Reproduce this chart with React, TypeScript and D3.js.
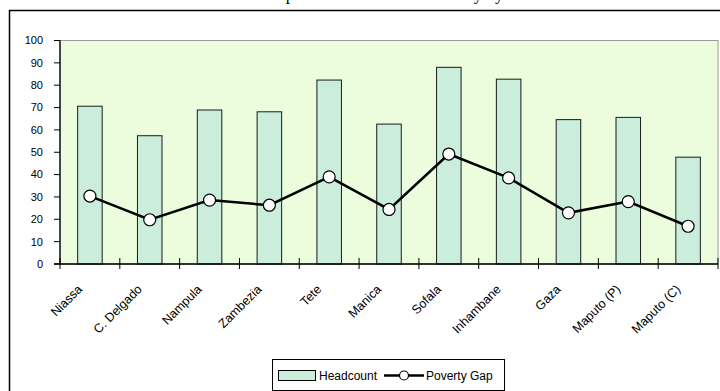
import React from "react";
import * as d3 from "d3";

const categories = [
  "Niassa",
  "C. Delgado",
  "Nampula",
  "Zambezia",
  "Tete",
  "Manica",
  "Sofala",
  "Inhambane",
  "Gaza",
  "Maputo (P)",
  "Maputo (C)",
];
const headcount = [70.6, 57.4, 68.9, 68.1, 82.3, 62.6, 88.0, 82.7, 64.6, 65.6, 47.8];
const povertyGap = [30.4, 19.8, 28.6, 26.3, 39.0, 24.4, 49.2, 38.5, 22.9, 27.9, 16.9];
const yTicks = [0, 10, 20, 30, 40, 50, 60, 70, 80, 90, 100];

const W = 720;
const H = 391;
const plot = { left: 60, right: 718, top: 40.5, bottom: 264 };

const sans = "'Liberation Sans', Arial, sans-serif";

export default function App() {
  const x = d3
    .scaleBand<string>()
    .domain(categories)
    .range([plot.left, plot.right])
    .paddingInner(0)
    .paddingOuter(0);
  const y = d3.scaleLinear().domain([0, 100]).range([plot.bottom, plot.top]);
  const barW = x.bandwidth() * 0.41;
  const cx = (c: string) => (x(c) as number) + x.bandwidth() / 2;

  const line = d3
    .line<number>()
    .x((_, i) => cx(categories[i]))
    .y((d) => y(d));

  const boundaries = d3.range(categories.length + 1).map((i) => plot.left + i * x.bandwidth());

  return (
    <div style={{ position: "fixed", left: 0, top: 0 }}>
      <svg width={W} height={H} style={{ display: "block", background: "#fff" }}>
        {/* title, mostly above the frame */}
        <text
          x={266}
          y={0}
          fontFamily="'Liberation Serif', 'Times New Roman', serif"
          fontSize={17}
          fill="#000"
        >
          Depth and Incidence of Poverty by Province
        </text>

        {/* chart frame */}
        <rect x={9.5} y={10.5} width={760} height={420} fill="#fff" stroke="#000" strokeWidth={1.5} />

        {/* plot area */}
        <rect
          x={plot.left}
          y={plot.top}
          width={plot.right - plot.left}
          height={plot.bottom - plot.top}
          fill="#EBFDDC"
          stroke="#9a9a9a"
          strokeWidth={1}
        />

        {/* bars */}
        {categories.map((c, i) => (
          <rect
            key={c}
            x={cx(c) - barW / 2}
            y={y(headcount[i])}
            width={barW}
            height={plot.bottom - y(headcount[i])}
            fill="#CBEDDC"
            stroke="#1a1a1a"
            strokeWidth={1}
          />
        ))}

        {/* y axis */}
        <line x1={plot.left} x2={plot.left} y1={plot.top} y2={plot.bottom} stroke="#000" strokeWidth={1.3} />
        {yTicks.map((t) => (
          <g key={t}>
            <line x1={plot.left - 6} x2={plot.left} y1={y(t)} y2={y(t)} stroke="#000" strokeWidth={1} />
            <text
              x={plot.left - 17}
              y={y(t)}
              dy="0.35em"
              textAnchor="end"
              fontFamily={sans}
              fontSize={11}
              fill="#000"
            >
              {t}
            </text>
          </g>
        ))}

        {/* x axis */}
        <line x1={plot.left - 6} x2={plot.right} y1={plot.bottom} y2={plot.bottom} stroke="#000" strokeWidth={1.3} />
        {boundaries.map((bx, i) => (
          <line key={i} x1={bx} x2={bx} y1={plot.bottom - 6} y2={plot.bottom + 5} stroke="#000" strokeWidth={1} />
        ))}
        {categories.map((c) => (
          <text
            key={c}
            transform={`translate(${cx(c) - 7},${290}) rotate(-45)`}
            textAnchor="end"
            fontFamily={sans}
            fontSize={12.5}
            fill="#000"
          >
            {c}
          </text>
        ))}

        {/* poverty gap line */}
        <path d={line(povertyGap) ?? ""} fill="none" stroke="#000" strokeWidth={2.5} />
        {povertyGap.map((v, i) => (
          <circle key={i} cx={cx(categories[i])} cy={y(v)} r={6} fill="#fff" stroke="#000" strokeWidth={1.2} />
        ))}

        {/* legend */}
        <rect x={272.5} y={359.5} width={232} height={31} fill="#fff" stroke="#000" strokeWidth={1} />
        <rect x={278.5} y={370.5} width={37} height={10} fill="#CBEDDC" stroke="#000" strokeWidth={1} />
        <text x={319} y={380} fontFamily={sans} fontSize={12} fill="#000">
          Headcount
        </text>
        <line x1={384} x2={424} y1={375.5} y2={375.5} stroke="#000" strokeWidth={2.5} />
        <circle cx={404} cy={375.5} r={4.5} fill="#fff" stroke="#000" strokeWidth={1.2} />
        <text x={426} y={380} fontFamily={sans} fontSize={12} fill="#000">
          Poverty Gap
        </text>
      </svg>
    </div>
  );
}
